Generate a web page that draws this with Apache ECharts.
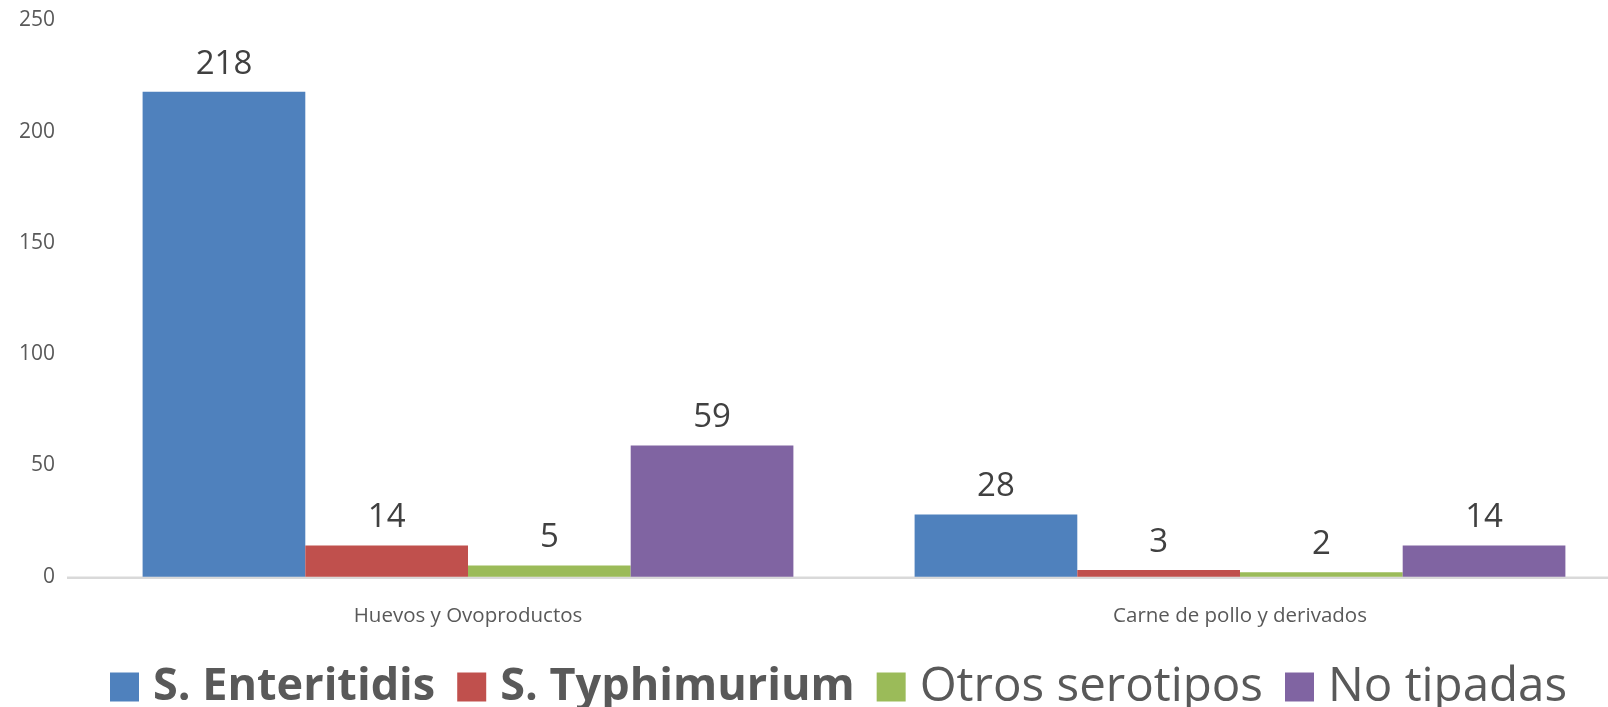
<!DOCTYPE html>
<html>
<head>
<meta charset="utf-8">
<script src="https://cdn.jsdelivr.net/npm/echarts@6/dist/echarts.min.js"></script>
<style>
  html, body { margin: 0; padding: 0; background: #fff; }
  #main { width: 1608px; height: 707px; }
</style>
</head>
<body>
<div id="main"></div>
<script>
var categories = ['Huevos y Ovoproductos', 'Carne de pollo y derivados'];
var seriesNames = ['S. Enteritidis', 'S. Typhimurium', 'Otros serotipos', 'No tipadas'];
var enteritidis = [218, 28];
var typhimurium = [14, 3];
var otros = [5, 2];
var noTipadas = [59, 14];
var yTicks = [0, 50, 100, 150, 200, 250];

var colors = ['#4f81bd', '#c0504d', '#9bbb59', '#8064a2'];
var boldNames = ['S. Enteritidis', 'S. Typhimurium'];

function makeSeries(name, values, color) {
    return {
        name: name,
        type: 'bar',
        data: values,
        barGap: '0%',
        barCategoryGap: '15.7%',
        itemStyle: { color: color },
        z: 3,
        label: {
            show: true,
            position: 'top',
            distance: 11,
            fontFamily: 'Open Sans',
            fontSize: 33,
            color: '#404040'
        }
    }
}

var myChart = echarts.init(document.getElementById('main'));
myChart.setOption({
    animation: false,
    color: colors,
    grid: {
        left: 82,
        width: 1544,
        top: 20.5,
        bottom: 130.3,
        outerBoundsMode: 'none',
        containLabel: false
    },
    legend: {
        data: seriesNames,
        left: 105,
        top: 658,
        itemWidth: 29,
        itemHeight: 29,
        itemGap: 22,
        icon: 'rect',
        formatter: function (name) {
            return boldNames.indexOf(name) >= 0 ? '{b|' + name + '}' : '{n|' + name + '}'
        },
        textStyle: {
            rich: {
                b: { fontFamily: 'Open Sans', fontSize: 45, fontWeight: 'bold', color: '#595959', lineHeight: 50, padding: [0, 0, 0, 9] },
                n: { fontFamily: 'Open Sans', fontSize: 47.5, color: '#595959', lineHeight: 50, padding: [0, 0, 0, 9] }
            }
        }
    },
    xAxis: {
        type: 'category',
        data: categories,
        axisLine: { show: false },
        axisTick: { show: false },
        axisLabel: {
            margin: 29,
            fontFamily: 'Open Sans',
            fontSize: 20.5,
            color: '#595959'
        }
    },
    yAxis: {
        type: 'value',
        min: yTicks[0],
        max: yTicks[yTicks.length - 1],
        interval: yTicks[1] - yTicks[0],
        axisLine: { show: false },
        axisTick: { show: false },
        splitLine: { show: false },
        axisLabel: {
            margin: 27,
            fontFamily: 'Open Sans',
            fontSize: 21,
            color: '#595959'
        }
    },
    series: [
        makeSeries(seriesNames[0], enteritidis, colors[0]),
        makeSeries(seriesNames[1], typhimurium, colors[1]),
        makeSeries(seriesNames[2], otros, colors[2]),
        makeSeries(seriesNames[3], noTipadas, colors[3])
    ]
});

// axis baseline runs past the plot on both sides, as in the original
var zeroY = myChart.convertToPixel({ yAxisIndex: 0 }, 0);
myChart.setOption({
    graphic: [{
        type: 'line',
        z: 1,
        shape: { x1: 67, y1: zeroY + 1, x2: 1608, y2: zeroY + 1 },
        style: { stroke: '#d9d9d9', lineWidth: 2.5 }
    }]
});
</script>
</body>
</html>
